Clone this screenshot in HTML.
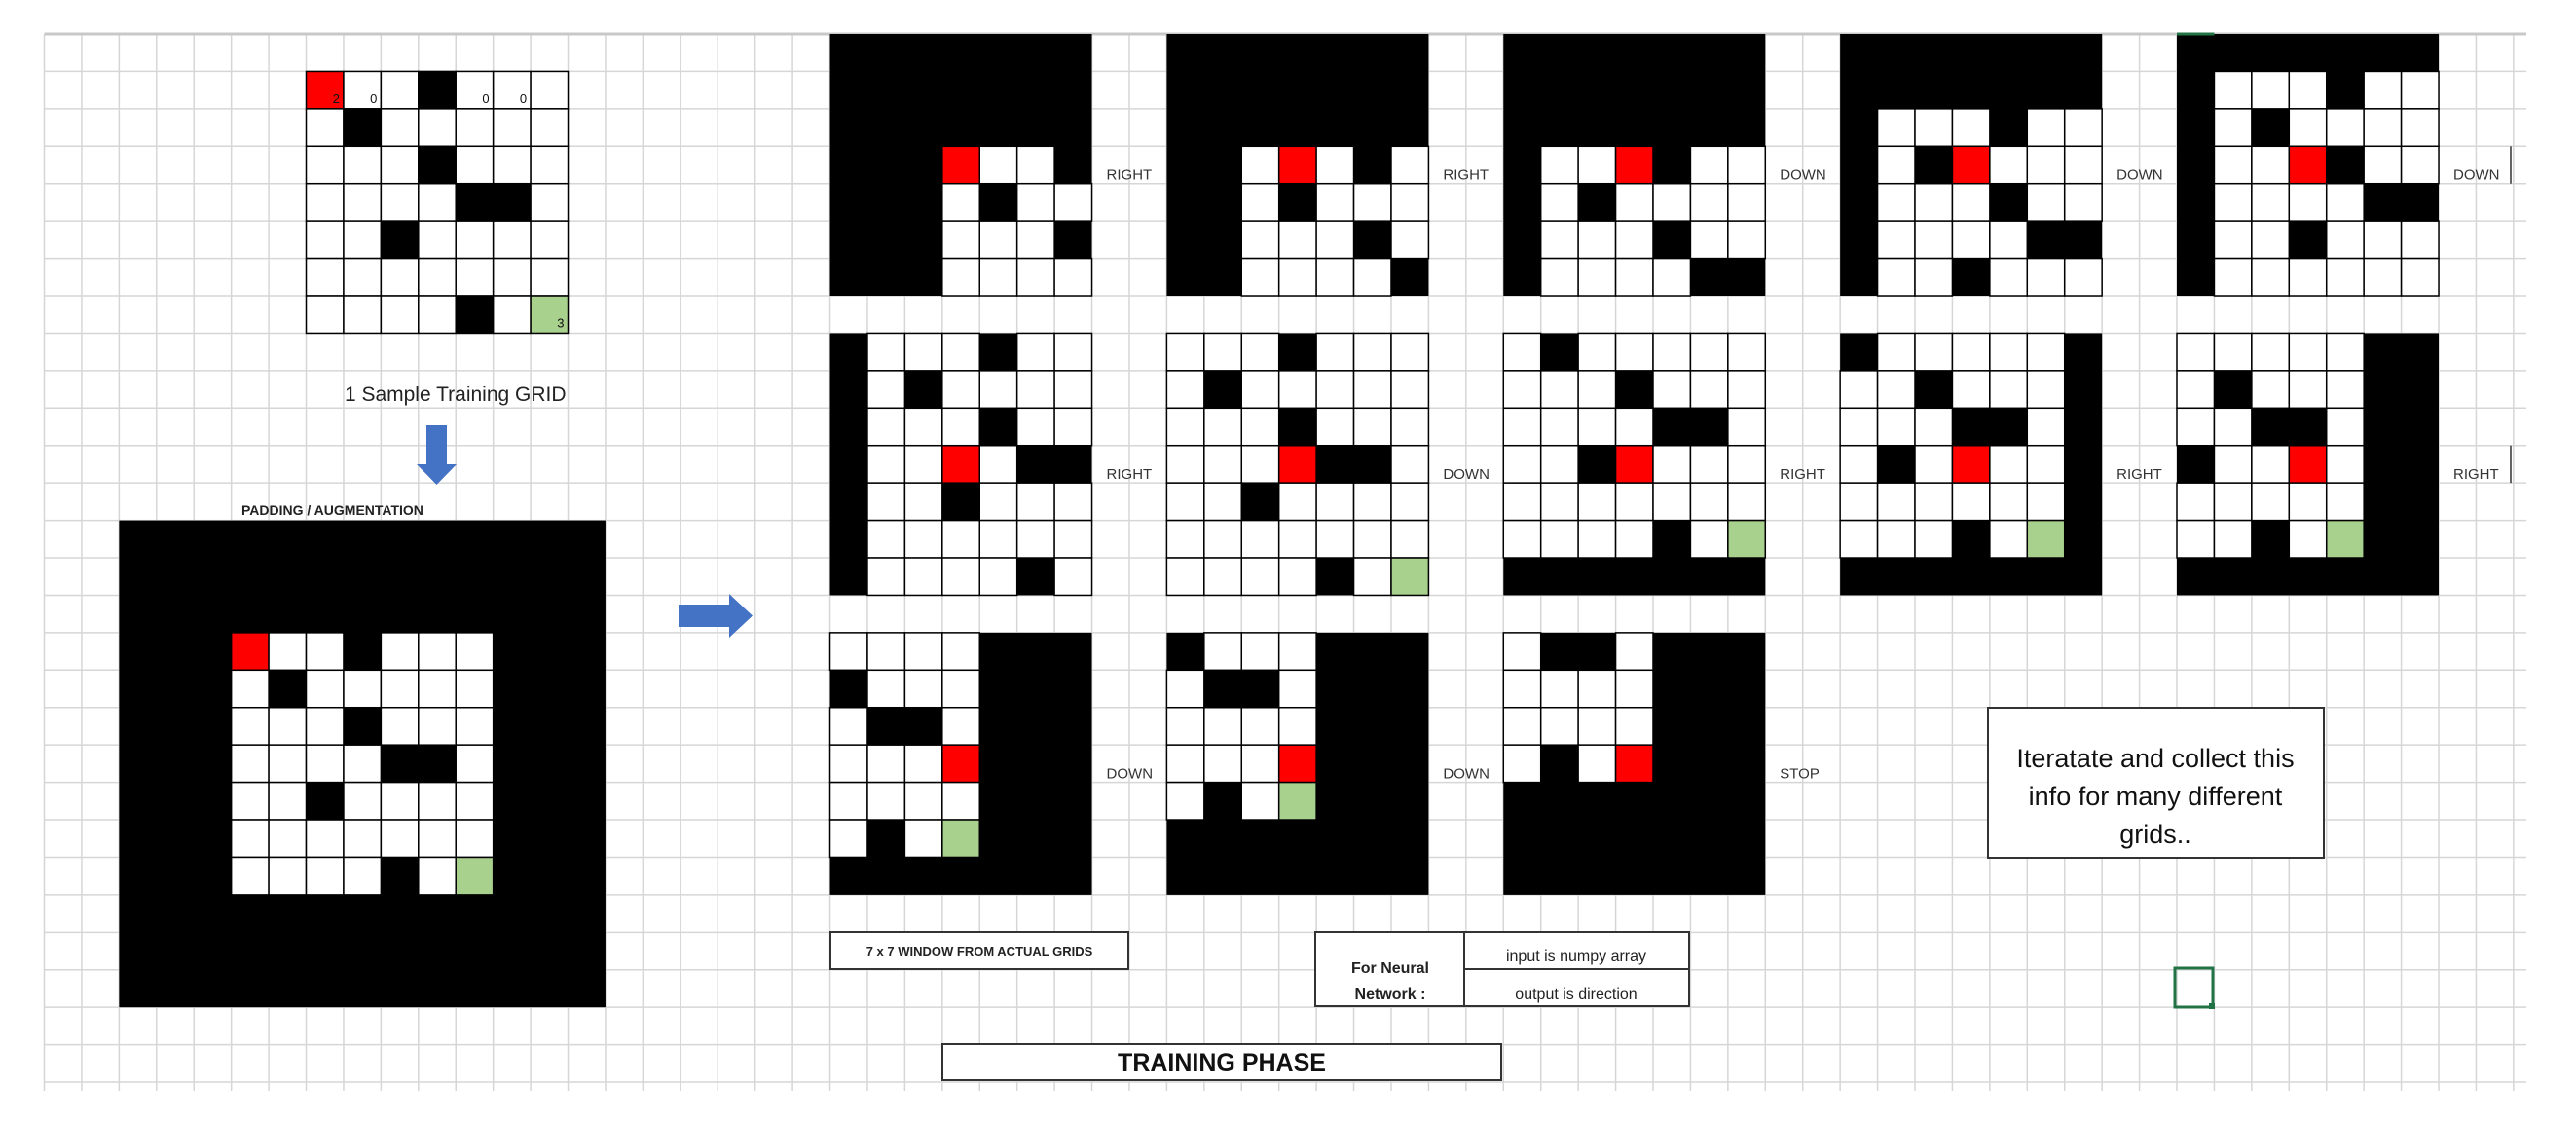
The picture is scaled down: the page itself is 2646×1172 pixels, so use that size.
<!DOCTYPE html>
<html><head><meta charset="utf-8">
<style>
html,body{margin:0;padding:0;background:#fff;width:2646px;height:1172px;overflow:hidden}
svg{display:block}
text{font-family:"Liberation Sans Narrow","Liberation Sans",sans-serif}
</style></head>
<body>
<svg id="s" xmlns="http://www.w3.org/2000/svg" width="2646" height="1172" viewBox="0 0 2646 1172">
<rect width="2646" height="1172" fill="#fff"/>
<g id="grid"></g>
<g id="content"></g>
</svg>
<script>
(function(){
var NS="http://www.w3.org/2000/svg";
var S=38.43,X0=45.5,Y0=35;
function X(c){return X0+c*S;} function Y(r){return Y0+r*S;}
var grid=document.getElementById('grid'),g=document.getElementById('content');
function el(p,tag,a,txt){var e=document.createElementNS(NS,tag);for(var k in a)e.setAttribute(k,a[k]);if(txt!=null)e.textContent=txt;p.appendChild(e);return e;}
// sheet gridlines
for(var c=0;c<=66;c++){el(grid,'line',{x1:X(c),y1:Y0,x2:X(c),y2:1121,stroke:'#d6d6d6','stroke-width':1.5});}
for(var r=0;r<=28;r++){el(grid,'line',{x1:X0,y1:Y(r),x2:2595,y2:Y(r),stroke:'#d6d6d6','stroke-width':1.5});}
el(grid,'line',{x1:X0,y1:Y0,x2:2595,y2:Y0,stroke:'#c8c8c8','stroke-width':3});

var G=["R..B...",".B.....","...B...","....BB.","..B....",".......","....B.G"];
function cell(r,c){if(r<0||r>6||c<0||c>6)return 'B';var ch=G[r][c];return ch==='R'?'.':ch;}
var GREEN='#a9d18e',RED='#ff0000';

// sample grid top
for(var r=0;r<7;r++)for(var c=0;c<7;c++){
  var ch=G[r][c];var f=ch==='R'?RED:ch==='B'?'#000':ch==='G'?GREEN:'#fff';
  el(g,'rect',{x:X(7+c),y:Y(1+r),width:S,height:S,fill:f,stroke:'#000','stroke-width':1.5});
}
var nums=[[0,0,'2'],[0,1,'0'],[0,4,'0'],[0,5,'0'],[6,6,'3']];
nums.forEach(function(n){el(g,'text',{x:X(7+n[1]+1)-4,y:Y(1+n[0]+1)-6,'font-size':13,'text-anchor':'end',fill:'#111'},n[2]);});
el(g,'text',{x:X(8)+1,y:412,'font-size':21,fill:'#222'},'1 Sample Training GRID');
// down arrow
el(g,'polygon',{points:'438,437 459,437 459,477 469,477 448.5,498 428,477 438,477',fill:'#4472c4'});
el(g,'text',{x:248,y:529,'font-size':14,'font-weight':'bold',fill:'#222'},'PADDING / AUGMENTATION');
// padded grid
el(g,'rect',{x:X(2),y:Y(13),width:13*S,height:13*S,fill:'#000'});
for(var r=0;r<7;r++)for(var c=0;c<7;c++){
  var ch=G[r][c];if(ch==='B')continue;var f=ch==='R'?RED:ch==='G'?GREEN:'#fff';
  el(g,'rect',{x:X(5+c),y:Y(16+r),width:S,height:S,fill:f,stroke:'#000','stroke-width':1.5});
}
// right arrow
el(g,'polygon',{points:'697,621 749,621 749,610 773,632.5 749,655 749,644 697,644',fill:'#4472c4'});

// windows
var pos=[[0,0],[0,1],[0,2],[1,2],[2,2],[3,2],[3,3],[4,3],[4,4],[4,5],[4,6],[5,6],[6,6]];
var lab=['RIGHT','RIGHT','DOWN','DOWN','DOWN','RIGHT','DOWN','RIGHT','RIGHT','RIGHT','DOWN','DOWN','STOP'];
pos.forEach(function(p,i){
  var lr=Math.floor(i/5),lc=i%5;var cx=21+9*lc,cy=8*lr;
  el(g,'rect',{x:X(cx),y:Y(cy),width:7*S,height:7*S,fill:'#000'});
  for(var dr=0;dr<7;dr++)for(var dc=0;dc<7;dc++){
    var r=p[0]-3+dr,c=p[1]-3+dc,f;
    if(r===p[0]&&c===p[1])f=RED;else{var ch=cell(r,c);if(ch==='B')continue;f=ch==='G'?GREEN:'#fff';}
    el(g,'rect',{x:X(cx+dc),y:Y(cy+dr),width:S,height:S,fill:f,stroke:'#000','stroke-width':1.5});
  }
  el(g,'text',{x:X(cx+7)+15,y:Y(cy+4)-4,'font-size':15,fill:'#333'},lab[i]);
});
// right edge bars
el(g,'line',{x1:2579,y1:Y(3),x2:2579,y2:Y(4),stroke:'#333','stroke-width':1.5});
el(g,'line',{x1:2579,y1:Y(11),x2:2579,y2:Y(12),stroke:'#333','stroke-width':1.5});
el(g,'line',{x1:X(57),y1:Y0,x2:X(58),y2:Y0,stroke:'#217346','stroke-width':3});

// boxes
el(g,'rect',{x:853,y:957,width:306,height:38,fill:'#fff',stroke:'#333','stroke-width':2});
el(g,'text',{x:1006,y:982,'font-size':13,'font-weight':'bold','text-anchor':'middle',fill:'#222'},'7 x 7 WINDOW FROM ACTUAL GRIDS');
el(g,'rect',{x:1351,y:957,width:384,height:76,fill:'#fff',stroke:'#333','stroke-width':2});
el(g,'line',{x1:1504,y1:957,x2:1504,y2:1033,stroke:'#333','stroke-width':2});
el(g,'line',{x1:1504,y1:995,x2:1735,y2:995,stroke:'#333','stroke-width':2});
el(g,'text',{x:1428,y:999,'font-size':16,'font-weight':'bold','text-anchor':'middle',fill:'#222'},'For Neural');
el(g,'text',{x:1428,y:1026,'font-size':16,'font-weight':'bold','text-anchor':'middle',fill:'#222'},'Network :');
el(g,'text',{x:1619,y:987,'font-size':16,'text-anchor':'middle',fill:'#222'},'input is numpy array');
el(g,'text',{x:1619,y:1026,'font-size':16,'text-anchor':'middle',fill:'#222'},'output is direction');
el(g,'rect',{x:968,y:1072,width:574,height:37,fill:'#fff',stroke:'#333','stroke-width':2});
el(g,'text',{x:1255,y:1100,'font-size':25,'font-weight':'bold','text-anchor':'middle',fill:'#111'},'TRAINING PHASE');
el(g,'rect',{x:2042,y:727,width:345,height:154,fill:'#fff',stroke:'#333','stroke-width':2});
[['Iteratate and collect this',795],['info for many different',834],['grids..',873]].forEach(function(t){
  el(g,'text',{x:2214,y:t[1]-7,'font-size':27,'text-anchor':'middle',fill:'#111'},t[0]);});
el(g,'rect',{x:2234,y:994,width:39,height:40,fill:'none',stroke:'#217346','stroke-width':3});
el(g,'rect',{x:2269,y:1030,width:6,height:6,fill:'#217346'});
})();
</script>
</body></html>
